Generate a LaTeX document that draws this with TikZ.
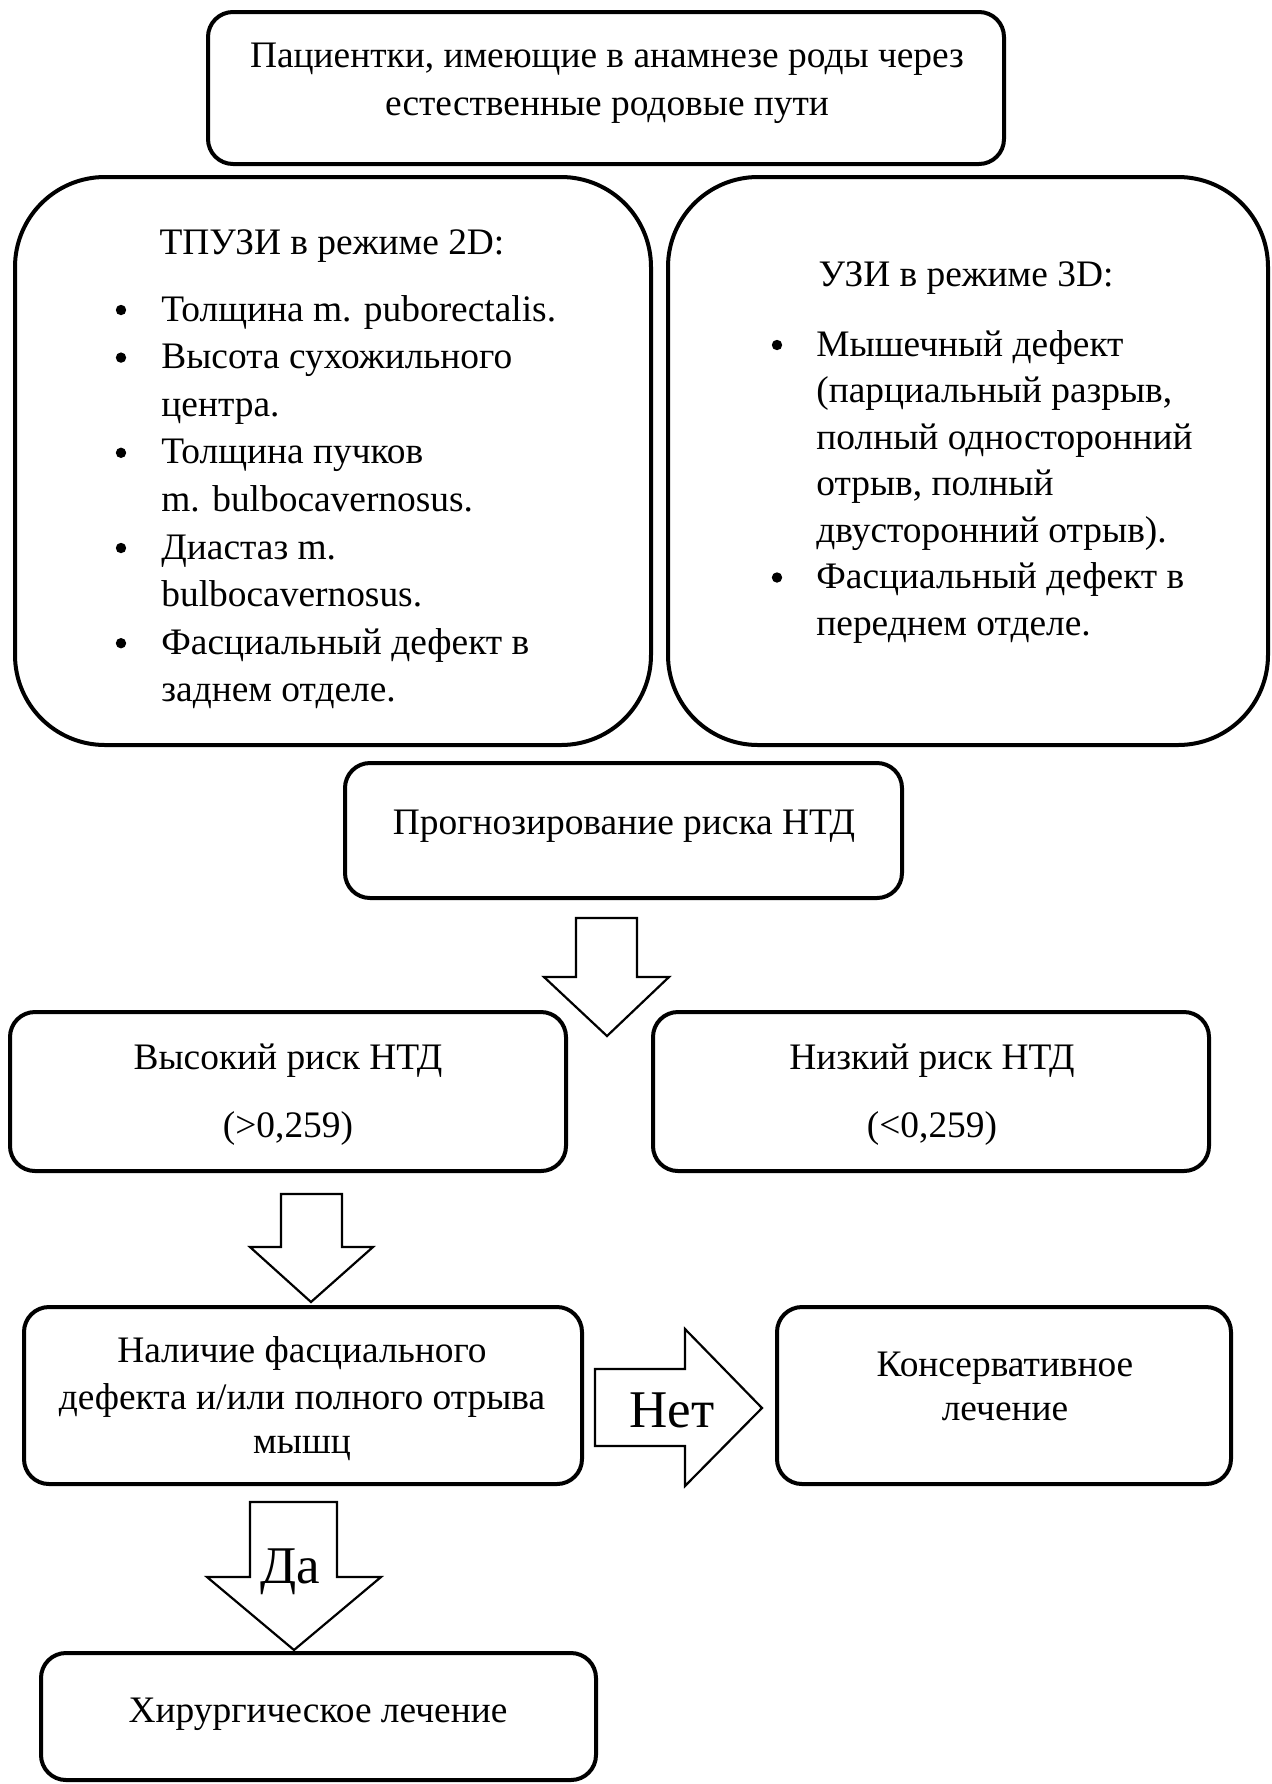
\documentclass[tikz,border=0pt]{standalone}
\usepackage{fontspec}
\setmainfont{Liberation Serif}
\begin{document}
\begin{tikzpicture}[x=0.5pt,y=-0.5pt,
  box/.style={draw,line width=2pt,rounded corners=12.5pt,inner sep=0pt},
  bigbox/.style={draw,line width=2pt,rounded corners=45pt,inner sep=0pt},
  txt/.style={inner sep=0pt,anchor=base,font=\fontsize{18.7}{24}\selectfont},
  ltxt/.style={txt,anchor=base west},
  bulletdot/.style={circle,fill,inner sep=0pt,minimum size=5.2pt},
  bigtxt/.style={inner sep=0pt,anchor=base,font=\fontsize{26.5}{30}\selectfont},
  blockarrow/.style={draw,line width=1.1pt,fill=white,line join=miter}]
\useasboundingbox (0,0) rectangle (1272,1784);

% boxes
\node[box,minimum width=398pt,minimum height=76pt] (top) at (606,88) {};
\node[bigbox,minimum width=318pt,minimum height=284pt] (left) at (333,461) {};
\node[bigbox,minimum width=300pt,minimum height=284pt] (right) at (968,461) {};
\node[box,minimum width=278.5pt,minimum height=67.5pt] (prog) at (623.5,830.5) {};
\node[box,minimum width=278pt,minimum height=79.5pt] (high) at (288,1091.5) {};
\node[box,minimum width=278pt,minimum height=79.5pt] (low) at (931,1091.5) {};
\node[box,minimum width=279pt,minimum height=88.5pt] (dec) at (303,1395.5) {};
\node[box,minimum width=227pt,minimum height=88.5pt] (kons) at (1004,1395.5) {};
\node[box,minimum width=277.5pt,minimum height=63.5pt] (surg) at (318.5,1716.5) {};

% top text
\node[txt] (top1) at (607,67) {Пациентки, имеющие в анамнезе роды через};
\node[txt] (top2) at (607,115) {естественные родовые пути};

% left box
\node[txt] (lt) at (332,254) {ТПУЗИ в режиме 2D:};
\foreach \i/\b/\s in {0/1/{Толщина m. puborectalis.},1/1/{Высота сухожильного},2/0/{центра.},3/1/{Толщина пучков},4/0/{m. bulbocavernosus.},5/1/{Диастаз m.},6/0/{bulbocavernosus.},7/1/{Фасциальный дефект в},8/0/{заднем отделе.}}{
  \node[ltxt] (l\i) at (161,321+47.6*\i) {\s};
  \ifnum\b=1 \node[bulletdot] (lb\i) at (121,310+47.6*\i) {};\fi
}

% right box
\node[txt] (rt) at (966,286) {УЗИ в режиме 3D:};
\foreach \i/\b/\s in {0/1/{Мышечный дефект},1/0/{(парциальный разрыв,},2/0/{полный односторонний},3/0/{отрыв, полный},4/0/{двусторонний отрыв).},5/1/{Фасциальный дефект в},6/0/{переднем отделе.}}{
  \node[ltxt] (r\i) at (816,356+46.5*\i) {\s};
  \ifnum\b=1 \node[bulletdot] (rb\i) at (777,345+46.5*\i) {};\fi
}

% other texts
\node[txt] (progt) at (624,834) {Прогнозирование риска НТД};
\node[txt] (high1) at (288,1069) {Высокий риск НТД};
\node[txt] (high2) at (288,1137) {(>0,259)};
\node[txt] (low1) at (932,1069) {Низкий риск НТД};
\node[txt] (low2) at (932,1137) {(<0,259)};
\node[txt] (dec1) at (302,1362) {Наличие фасциального};
\node[txt] (dec2) at (302,1409) {дефекта и/или полного отрыва};
\node[txt] (dec3) at (302,1453) {мышц};
\node[txt] (kons1) at (1005,1376) {Консервативное};
\node[txt] (kons2) at (1005,1420) {лечение};
\node[txt] (surgt) at (318,1722) {Хирургическое лечение};

% block arrows
\draw[blockarrow] (576,918) -- (637,918) -- (637,977) -- (669,977) -- (607,1036) -- (544,977) -- (576,977) -- cycle;
\draw[blockarrow] (281,1194) -- (342,1194) -- (342,1247) -- (373,1247) -- (311,1302) -- (250,1247) -- (281,1247) -- cycle;
\draw[blockarrow] (250,1502) -- (337,1502) -- (337,1577) -- (381,1577) -- (294,1650) -- (207,1577) -- (250,1577) -- cycle;
\draw[blockarrow] (595,1369) -- (685,1369) -- (685,1329) -- (762,1408) -- (685,1486) -- (685,1446) -- (595,1446) -- cycle;
\node[bigtxt] (net) at (672,1427) {Нет};
\node[bigtxt] (da) at (290,1583) {Да};
\end{tikzpicture}
\end{document}
